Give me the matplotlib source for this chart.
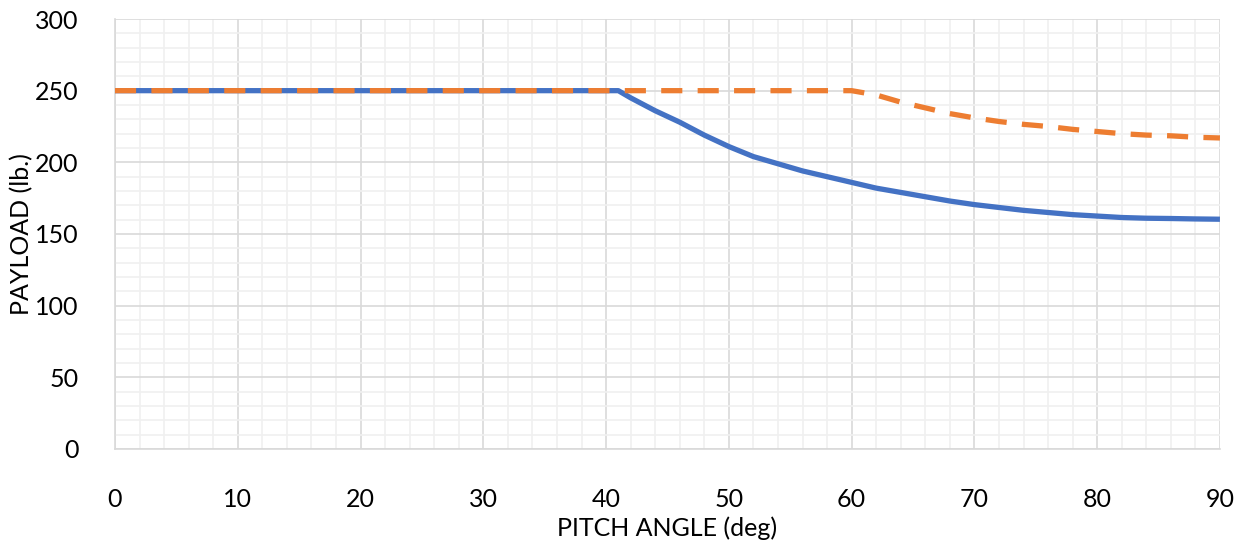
import numpy as np
import matplotlib.pyplot as plt
from matplotlib.ticker import MultipleLocator

# dados
angulo_azul = [0, 10, 20, 30, 40, 41, 42, 44, 46, 48, 50, 52, 54, 56, 58, 60, 62, 64,
               66, 68, 70, 72, 74, 76, 78, 80, 82, 84, 86, 88, 90]
carga_azul = [250, 250, 250, 250, 250, 250, 245, 236, 228, 219, 211, 204, 199, 194, 190,
              186, 182, 179, 176, 173, 170.5, 168.5, 166.5, 165, 163.5, 162.5, 161.5,
              161, 160.8, 160.5, 160.3]

angulo_laranja = [0, 10, 20, 30, 40, 50, 60, 62, 64, 66, 68, 70, 72, 74, 76, 78, 80,
                  82, 84, 86, 88, 90]
carga_laranja = [250, 250, 250, 250, 250, 250, 250, 247, 242, 238, 234, 231, 228.5,
                 226.5, 225, 223, 221.5, 220, 219, 218.5, 217.5, 217]

plt.rcParams['font.family'] = ['Lato', 'DejaVu Sans']

fig = plt.figure(figsize=(12.47, 5.46), dpi=100)
ax = fig.add_axes([0.0922, 0.1777, 0.8861, 0.7875])

ax.plot(angulo_azul, carga_azul, color='#4472C4', linewidth=3.8, zorder=3,
        solid_capstyle='butt', solid_joinstyle='round')
ax.plot(angulo_laranja, carga_laranja, color='#ED7D31', linewidth=3.8, zorder=4,
        dashes=(4.0, 2.9), dash_capstyle='butt')

ax.set_xlim(0, 90)
ax.set_ylim(0, 300)
ax.xaxis.set_major_locator(MultipleLocator(10))
ax.xaxis.set_minor_locator(MultipleLocator(2))
ax.yaxis.set_major_locator(MultipleLocator(50))
ax.yaxis.set_minor_locator(MultipleLocator(10))

ax.grid(True, which='major', color='#D9D9D9', linewidth=1.2, zorder=1)
ax.grid(True, which='minor', color='#F0F0F0', linewidth=1.2, zorder=0)
ax.set_axisbelow(True)

for s in ['top', 'right']:
    ax.spines[s].set_visible(False)
for s in ['left', 'bottom']:
    ax.spines[s].set_color('#D9D9D9')
    ax.spines[s].set_linewidth(1.2)

ax.tick_params(which='both', length=0)
ax.tick_params(axis='x', labelsize=18, pad=28, colors='black')
ax.tick_params(axis='y', labelsize=18, pad=26, colors='black')

ax.set_xlabel('PITCH ANGLE (deg)', fontsize=18, labelpad=4)
ax.set_ylabel('PAYLOAD (lb.)', fontsize=18)
ax.yaxis.set_label_coords(-0.074, 0.5)

plt.savefig('out.png', dpi=100)
